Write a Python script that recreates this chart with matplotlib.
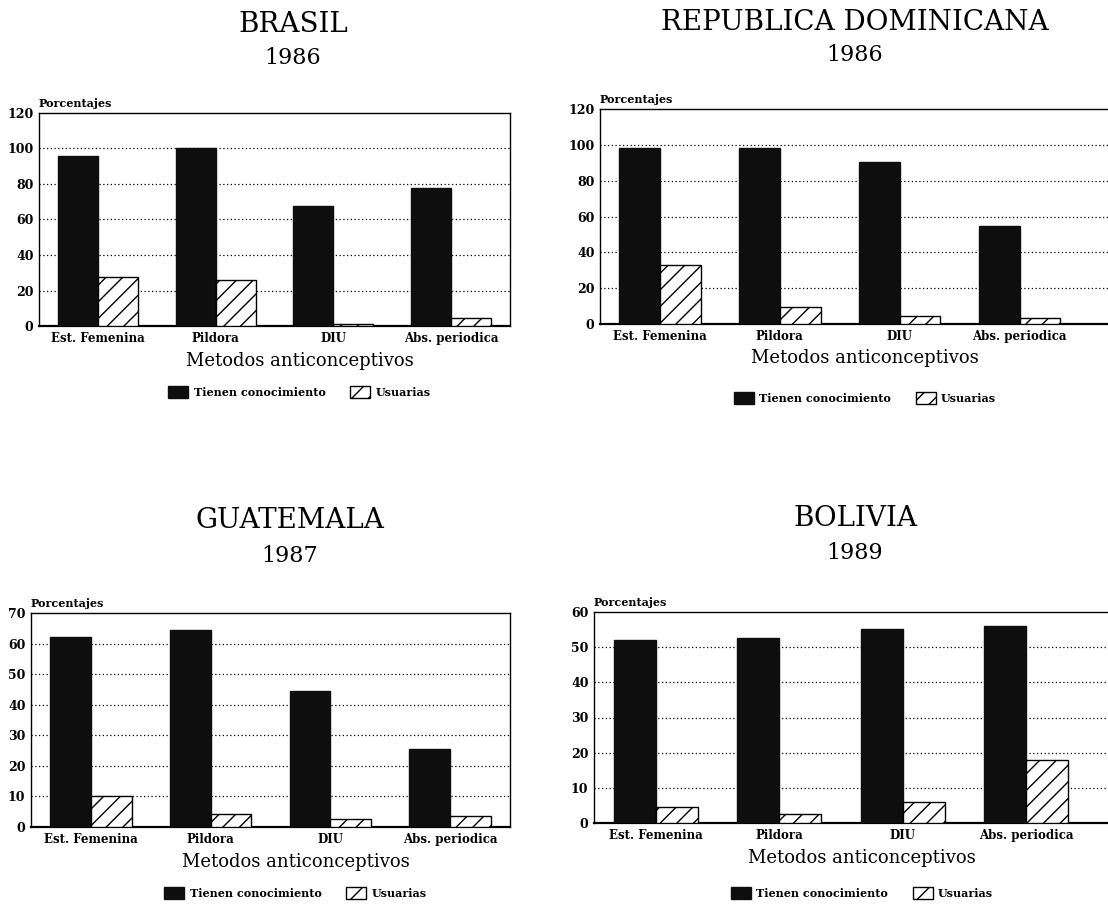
import matplotlib.pyplot as plt
import numpy as np
from matplotlib.patches import Patch

plt.rcParams['hatch.linewidth'] = 1.0
plt.rcParams['font.family'] = ['DejaVu Serif']

metodos = ['Est. Femenina', 'Pildora', 'DIU', 'Abs. periodica']

paises = ['BRASIL', 'REPUBLICA DOMINICANA', 'GUATEMALA', 'BOLIVIA']
anios = ['1986', '1986', '1987', '1989']

conocimiento_brasil = [96, 100, 67.5, 78]
usuarias_brasil = [27.5, 26, 1, 4.5]
conocimiento_rdom = [98, 98.5, 90.5, 54.5]
usuarias_rdom = [33, 9.5, 4.5, 3.5]
conocimiento_guate = [62, 64.5, 44.5, 25.5]
usuarias_guate = [10.2, 4.2, 2.6, 3.7]
conocimiento_bol = [52, 52.5, 55.3, 56]
usuarias_bol = [4.5, 2.7, 6, 17.8]

y_max = [120, 120, 70, 60]
y_step = [20, 20, 10, 10]

W, H = 1108, 911
fig = plt.figure(figsize=(W / 100, H / 100), dpi=100)


def px_axes(left, top, right, bottom):
    return fig.add_axes([left / W, 1 - bottom / H, (right - left) / W, (bottom - top) / H])


# (left, top, right, bottom) in pixels, xlim right edge, title x, title y, year y, xlabel y, legend y
layout = [
    ((39, 113, 510, 326), 3.5, 293, 25, 58, 361, 392),
    ((600, 109, 1125, 324), 3.88, 855, 22, 55, 358, 398),
    ((31, 613, 510, 827), 3.5, 290, 520, 556, 862, 893),
    ((594, 612, 1125, 823), 3.8, 855, 519, 553, 858, 893),
]

conocimiento = [conocimiento_brasil, conocimiento_rdom, conocimiento_guate, conocimiento_bol]
usuarias = [usuarias_brasil, usuarias_rdom, usuarias_guate, usuarias_bol]

x = np.arange(len(metodos))
w = 0.34

for i in range(4):
    box, xr, tx, ty, yy, ly, gy = layout[i]
    ax = px_axes(*box)
    ax.bar(x - w / 2, conocimiento[i], w, color='#0e0e0e', edgecolor='#0e0e0e', zorder=3)
    ax.bar(x + w / 2, usuarias[i], w, color='white', edgecolor='black', hatch='//',
           linewidth=1.0, zorder=3)
    ax.set_xlim(-0.5, xr)
    ax.set_ylim(0, y_max[i])
    ax.set_yticks(np.arange(0, y_max[i] + 1, y_step[i]))
    ax.set_xticks(x)
    ax.set_xticklabels(metodos, fontsize=8.5, fontweight='bold')
    for lab in ax.get_yticklabels():
        lab.set_fontweight('bold')
        lab.set_fontsize(9)
    ax.tick_params(axis='both', length=0, pad=4)
    for t in ax.get_yticks()[1:-1]:
        ax.axhline(t, color='black', ls=(0, (1, 2)), lw=0.9, zorder=1)
    for s in ax.spines.values():
        s.set_linewidth(1.0)
    ax.spines['bottom'].set_linewidth(1.6)
    ax.text(0.0, 1.02, 'Porcentajes', transform=ax.transAxes, fontsize=8,
            fontweight='bold', ha='left', va='bottom')

    fig.text(tx / W, 1 - ty / H, paises[i], fontsize=20, ha='center', va='center')
    fig.text(tx / W, 1 - yy / H, anios[i], fontsize=16, ha='center', va='center')
    cx = (box[0] + min(box[2], 1080)) / 2 + 25
    fig.text(cx / W, 1 - ly / H, 'Metodos anticonceptivos', fontsize=13,
             ha='center', va='center')

    handles = [Patch(facecolor='#0e0e0e', edgecolor='#0e0e0e', label='Tienen conocimiento'),
               Patch(facecolor='white', edgecolor='black', hatch='//', label='Usuarias')]
    fig.legend(handles=handles, loc='center', bbox_to_anchor=(cx / W, 1 - gy / H),
               ncol=2, frameon=False, prop={'weight': 'bold', 'size': 8},
               handlelength=1.8, handleheight=1.2, columnspacing=2.2, handletextpad=0.5)

plt.savefig('out.png', dpi=100)
plt.close()
